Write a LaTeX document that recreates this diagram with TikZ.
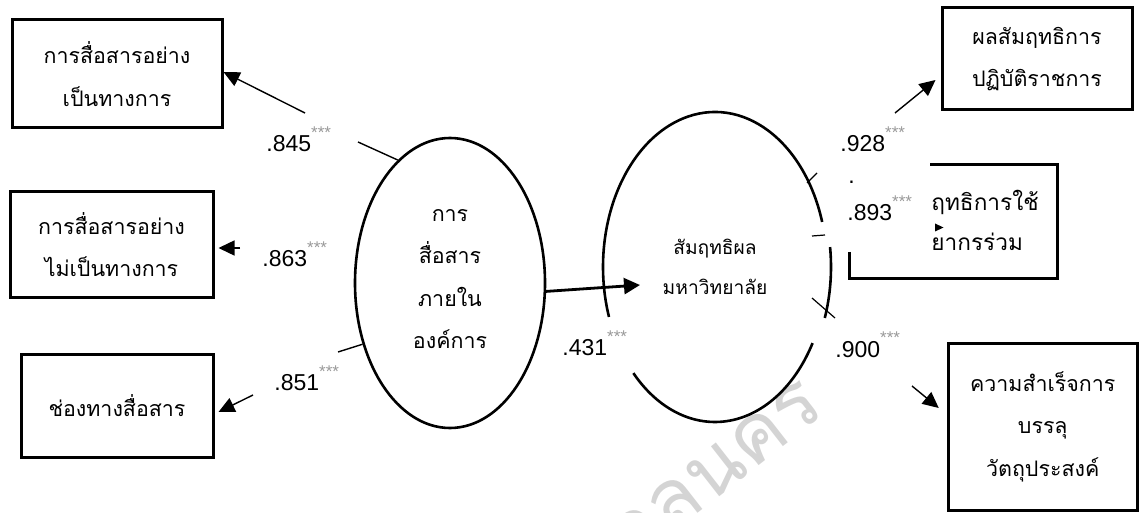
\documentclass[tikz,border=0pt]{standalone}
\usepackage{fontspec}
\setmainfont{Liberation Sans}
\newfontfamily\thai[Script=Thai]{Loma}
\usetikzlibrary{arrows.meta,shapes.geometric}
\newcommand\thaitext{\thai\fontsize{10.7}{21.3}\selectfont}
\newcommand\sig{\raisebox{6.5pt}{\fontsize{8.5}{8.5}\selectfont\color{black!40}***}}
\begin{document}
\begin{tikzpicture}[x=0.5pt,y=-0.5pt,
  box/.style={draw,line width=1.5pt,rectangle,inner sep=0pt,align=center,font=\thaitext},
  latent/.style={ellipse,inner sep=0pt,align=center,font=\thaitext},
  ring/.style={line width=1.3pt},
  plainline/.style={line width=0.7pt},
  arr/.style={line width=0.7pt,-{Triangle[length=8pt,width=7.5pt]}},
  bigarr/.style={line width=1.4pt,-{Triangle[length=8pt,width=8pt]}},
  coef/.style={anchor=base west,inner sep=0pt,font=\fontsize{11.5}{12}\selectfont},
  tickline/.style={line width=0.6pt}]
\useasboundingbox (0,0) rectangle (1140,513);
\clip (0,0) rectangle (1140,513);

% faint watermark behind everything
\node[anchor=base east,inner sep=0pt,rotate=38,text=black!17,
      font=\thai\fontsize{40}{40}\selectfont] (wm) at (828,412) {สกลนคร};

% observed indicators, left
\node[box,minimum width=105pt,minimum height=54pt] (b1) at (117,74) {การสื่อสารอย่าง\\เป็นทางการ};
\node[box,minimum width=101.5pt,minimum height=52.5pt] (b2) at (111.5,244.5) {การสื่อสารอย่าง\\ไม่เป็นทางการ};
\node[box,minimum width=96pt,minimum height=51.5pt] (b3) at (117,405.5) {ช่องทางสื่อสาร};

% observed indicators, right
\node[box,minimum width=95pt,minimum height=51pt] (b4) at (1037,59) {ผลสัมฤทธิการ\\ปฏิบัติราชการ};
\node[box,minimum width=94.5pt,minimum height=83.5pt] (b6) at (1042.75,426.5) {ความสำเร็จการ\\บรรลุ\\วัตถุประสงค์};
\draw[line width=1.5pt] (849,252) -- (849,279) -- (1057,279) -- (1057,165) -- (930,165);
\node[anchor=west,inner sep=0pt,font=\thai\fontsize{11.3}{12}\selectfont] (b5a) at (931,202) {ฤทธิการใช้};
\node[anchor=west,inner sep=0pt,font=\thai\fontsize{11.3}{12}\selectfont] (b5b) at (931,242) {ยากรร่วม};
\fill (935,223.5) -- (943.5,227.5) -- (935,231.5) -- cycle;

% latent variables
\node[latent,draw,ring,minimum width=95pt,minimum height=145pt] (comm) at (450,283) {};
\node[font=\thaitext,align=center,inner sep=0pt] (commtxt) at (450,279) {การ\\สื่อสาร\\ภายใน\\องค์การ};
\node[latent,minimum width=112pt,minimum height=155pt,font=\thai\fontsize{9.6}{20}\selectfont] (uni) at (715,267) {สัมฤทธิผล\\มหาวิทยาลัย};
\draw[ring] ([shift={(16.9:56pt and 77.5pt)}]uni.center) arc[start angle=16.9,end angle=198.8,x radius=56pt,y radius=77.5pt];
\draw[ring] ([shift={(223.2:56pt and 77.5pt)}]uni.center) arc[start angle=223.2,end angle=330.6,x radius=56pt,y radius=77.5pt];
\draw[ring] ([shift={(-19.2:56pt and 77.5pt)},xshift=2pt]uni.center) arc[start angle=-19.2,end angle=7.4,x radius=56pt,y radius=77.5pt];

% loadings, left
\coordinate (p1) at (358,142);
\coordinate (p1a) at (305,113);
\draw[plainline] (comm.113.7) -- (p1);
\draw[arr] (p1a) -- ([yshift=1pt]b1.east);
\node[coef] (l1) at (266,152) {.845\sig};

\coordinate (p2) at (240,248);
\draw[arr] (p2) -- ([xshift=2pt,yshift=-1.75pt]b2.east);
\node[coef] (l2) at (262,267) {.863\sig};

\coordinate (p3) at (338,352);
\coordinate (p3a) at (253,395);
\draw[plainline] (comm.215) -- (p3);
\draw[arr] (p3a) -- ([xshift=2pt,yshift=-3.25pt]b3.east);
\node[coef] (l3) at (274,390) {.851\sig};

% structural path
\coordinate (uin) at (640,285);
\draw[bigarr] (comm.-5.5) -- (uin);
\node[coef] (l0) at (562,355) {.431\sig};

% loadings, right
\coordinate (t1a) at (807,183);
\coordinate (t1b) at (817,173);
\draw[tickline] (t1a) -- (t1b);
\coordinate (p4) at (895,113);
\draw[arr] (p4) -- ([xshift=-2.5pt,yshift=-10.5pt]b4.west);
\node[coef] (l4) at (840,152) {.928\sig};
\node[coef] (dot) at (848,184) {.};

\coordinate (t2a) at (812,236);
\coordinate (t2b) at (825,235);
\draw[tickline] (t2a) -- (t2b);
\node[coef] (l5) at (847,221) {.893\sig};

\coordinate (t3a) at (812,298);
\coordinate (t3b) at (835,318);
\draw[tickline] (t3a) -- (t3b);
\coordinate (p6) at (912,386);
\draw[arr] (p6) -- ([xshift=-4pt,yshift=9.25pt]b6.west);
\node[coef] (l6) at (835,357) {.900\sig};
\end{tikzpicture}
\end{document}
